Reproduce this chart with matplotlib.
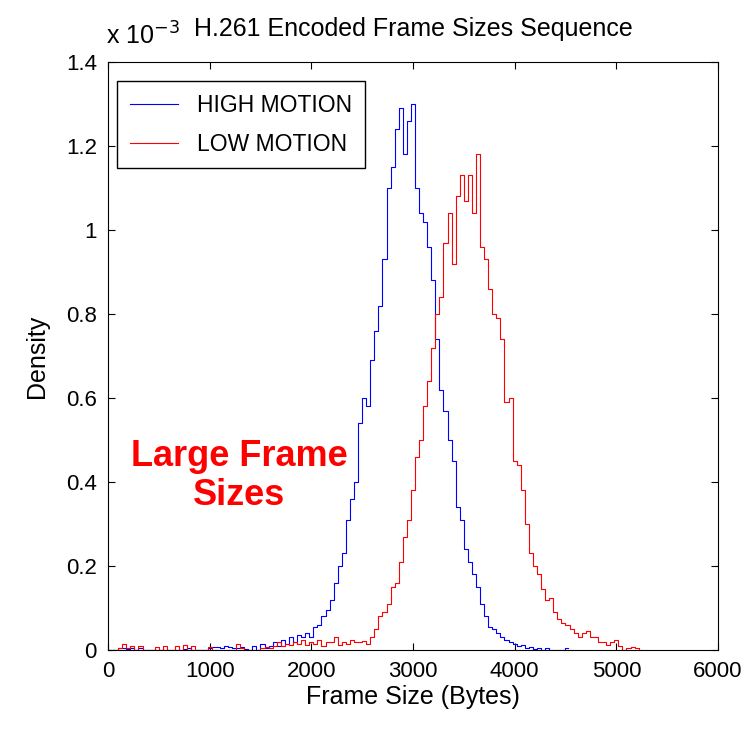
import numpy as np
import matplotlib.pyplot as plt

plt.rcParams['font.family'] = ['Liberation Sans', 'DejaVu Sans']

# bin centres (bytes), 40-byte bins
bins_high = np.arange(0, 4521, 40)
bins_low = np.arange(0, 5241, 40)

# density values in units of 1e-3
high_motion = [
    0, 0, 0, 0.004, 0.006, 0.002, 0.004, 0, 0.005, 0,
    0, 0, 0, 0, 0, 0, 0, 0, 0, 0.003,
    0.006, 0, 0, 0, 0, 0.004, 0.008, 0.008, 0.006, 0.009,
    0.008, 0.006, 0.004, 0.008, 0.003,
    0.0, 0.01, 0.0, 0.015, 0.005, 0.01, 0.02, 0.01, 0.025, 0.015,
    0.03, 0.02, 0.035, 0.03, 0.04, 0.03, 0.055, 0.06, 0.08, 0.095,
    0.12, 0.16, 0.20, 0.23, 0.31, 0.36, 0.40, 0.54, 0.60, 0.58,
    0.69, 0.76, 0.82, 0.93, 1.10, 1.15, 1.24, 1.29, 1.18, 1.26,
    1.30, 1.10, 1.04, 1.02, 0.96, 0.88, 0.74, 0.62, 0.57, 0.50,
    0.45, 0.34, 0.31, 0.24, 0.21, 0.18, 0.15, 0.11, 0.08, 0.055,
    0.05, 0.04, 0.03, 0.025, 0.02, 0.015, 0.01, 0.012, 0.005, 0.008,
    0.003, 0.006, 0.0, 0.004, 0.0, 0.0, 0.0, 0.0, 0.006,
]

low_motion = [
    0, 0, 0, 0.005, 0.015, 0.005, 0.01, 0, 0.01, 0,
    0, 0, 0.008, 0, 0.01, 0, 0, 0.01, 0, 0.012,
    0, 0.01, 0, 0, 0, 0.008, 0, 0, 0, 0,
    0, 0, 0.015, 0.005, 0, 0, 0, 0, 0.005, 0.008,
    0.005, 0.01, 0.02, 0.01, 0.015, 0.012, 0.02, 0.015, 0.025, 0.012,
    0.02, 0.015, 0.025, 0.01, 0.02, 0.018, 0.03, 0.012, 0.02, 0.015,
    0.025, 0.018, 0.02, 0.022, 0.015,
    0.03, 0.05, 0.08, 0.09, 0.11, 0.15, 0.16, 0.21, 0.27, 0.31,
    0.38, 0.46, 0.50, 0.58, 0.64, 0.72, 0.80, 0.84, 0.97, 1.04,
    0.92, 1.08, 1.13, 1.07, 1.13, 1.04, 1.18, 0.96, 0.93, 0.86,
    0.80, 0.79, 0.74, 0.59, 0.60, 0.45, 0.44, 0.38, 0.30, 0.23,
    0.20, 0.18, 0.145, 0.12, 0.125, 0.09, 0.075, 0.065, 0.06, 0.05,
    0.04, 0.03, 0.04, 0.045, 0.03, 0.03, 0.02, 0.02, 0.012, 0.02,
    0.025, 0.01, 0.0, 0.005, 0.008, 0.004, 0.0,
]

fig = plt.figure(figsize=(7.53, 7.33), dpi=100)
ax = fig.add_axes([0.1434, 0.1132, 0.8101, 0.8022])

ax.plot(bins_high, high_motion, color='blue', lw=0.8, drawstyle='steps-mid',
        label='HIGH MOTION')
ax.plot(bins_low, low_motion, color='red', lw=0.8, drawstyle='steps-mid',
        label='LOW MOTION')

ax.set_xlim(0, 6000)
ax.set_ylim(0, 1.4)
ax.set_xticks(range(0, 6001, 1000))
ax.set_yticks([0, 0.2, 0.4, 0.6, 0.8, 1, 1.2, 1.4])
ax.set_yticklabels(['0', '0.2', '0.4', '0.6', '0.8', '1', '1.2', '1.4'])
ax.tick_params(direction='in', top=True, right=True, length=5,
               labelsize=16, pad=8)

ax.set_xlabel('Frame Size (Bytes)', fontsize=18, labelpad=2)
ax.set_ylabel('Density', fontsize=18, labelpad=12)
ax.set_title('H.261 Encoded Frame Sizes Sequence', fontsize=18, pad=19)
fig.text(0.141, 0.9325, r'x 10$^{-3}$', fontsize=18, ha='left', va='bottom')

leg = ax.legend(loc='upper left', bbox_to_anchor=(0.0148, 0.9677),
                fontsize=16.5, fancybox=False, edgecolor='black',
                framealpha=1, handlelength=2.1, borderaxespad=0,
                borderpad=0.55, handletextpad=0.85, labelspacing=0.7)
leg.get_frame().set_linewidth(1.0)

ax.text(1289, 0.415, 'Large Frame\nSizes', color='red', fontsize=26,
        fontweight='bold', ha='center', va='center', linespacing=1.15)

fig.savefig('out.png', dpi=100)
